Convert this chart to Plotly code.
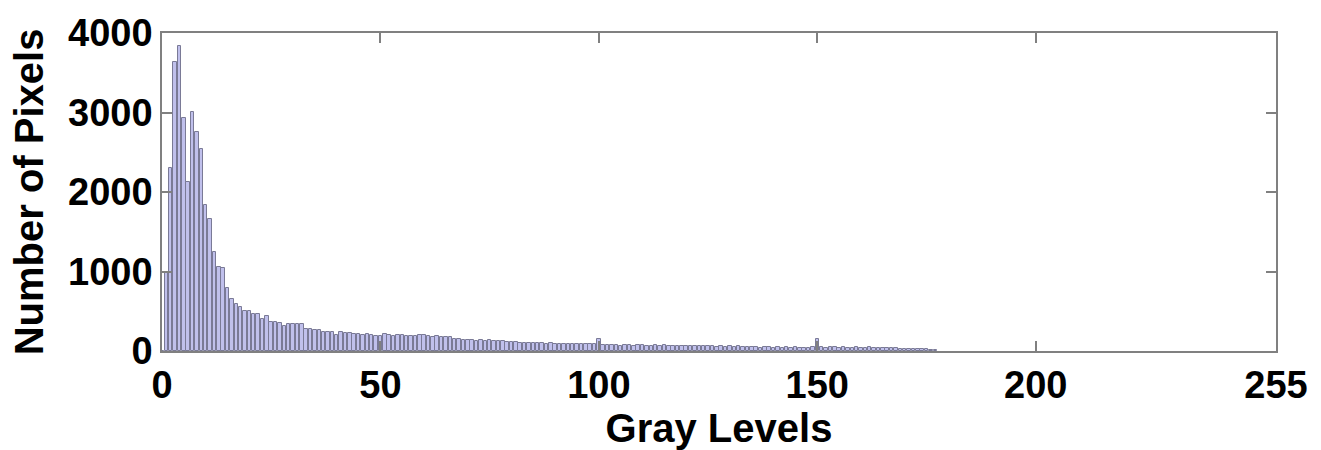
import plotly.graph_objects as go

# Histogram counts per gray level (levels 0..179; remaining levels are empty)
pixel_counts = [
    0, 1000, 2300, 3640, 3840, 2930, 2120, 3010, 2750, 2545,
    1840, 1660, 1250, 1060, 1040, 790, 660, 590, 550, 500,
    500, 460, 460, 400, 440, 360, 360, 350, 310, 335,
    335, 335, 345, 275, 275, 260, 260, 245, 240, 240,
    205, 240, 225, 225, 215, 215, 205, 210, 205, 195,
    185, 215, 205, 195, 205, 200, 185, 185, 195, 200,
    200, 185, 180, 185, 175, 175, 170, 145, 150, 135,
    135, 140, 130, 135, 130, 140, 125, 120, 125, 113,
    110, 115, 105, 100, 105, 102, 98, 105, 92, 95,
    90, 88, 92, 85, 90, 87, 84, 88, 82, 86,
    150, 75, 72, 70, 76, 68, 73, 70, 66, 72,
    70, 68, 65, 70, 66, 72, 64, 68, 66, 63,
    65, 62, 66, 60, 58, 57, 60, 55, 58, 56,
    57, 54, 58, 52, 55, 48, 46, 44, 47, 45,
    43, 46, 44, 45, 42, 46, 43, 44, 42, 45,
    145, 46, 44, 48, 45, 42, 47, 44, 43, 46,
    44, 42, 45, 40, 43, 41, 42, 40, 38, 28,
    26, 24, 25, 22, 24, 20, 18, 12,
]
gray_levels = list(range(len(pixel_counts)))

x_ticks = [0, 50, 100, 150, 200, 255]
y_ticks = [0, 1000, 2000, 3000, 4000]

fig = go.Figure(
    go.Bar(
        x=gray_levels,
        y=pixel_counts,
        width=0.8,
        marker=dict(color="#c0c0ec", line=dict(color="#7a7a96", width=1)),
    )
)

font_family = "Liberation Sans, Arial, sans-serif"
axis_common = dict(
    showgrid=False,
    zeroline=False,
    showline=True,
    mirror="ticks",
    linecolor="#808080",
    linewidth=1.5,
    ticks="inside",
    ticklen=10,
    tickwidth=1.5,
    tickcolor="#808080",
    tickfont=dict(family=font_family, size=38, color="black", weight="bold"),
)

fig.update_layout(
    width=1321,
    height=450,
    margin=dict(l=162, r=45, t=27, b=93),
    plot_bgcolor="white",
    paper_bgcolor="white",
    showlegend=False,
    bargap=0,
    xaxis=dict(
        range=[0, 255],
        tickvals=x_ticks,
        title=dict(text="Gray Levels", standoff=4,
                   font=dict(family=font_family, size=40, color="black", weight="bold")),
        **axis_common,
    ),
    yaxis=dict(
        range=[0, 4000],
        tickvals=y_ticks,
        title=dict(text="Number of Pixels", standoff=12,
                   font=dict(family=font_family, size=40, color="black", weight="bold")),
        **axis_common,
    ),
)

fig.write_html("out.html")
